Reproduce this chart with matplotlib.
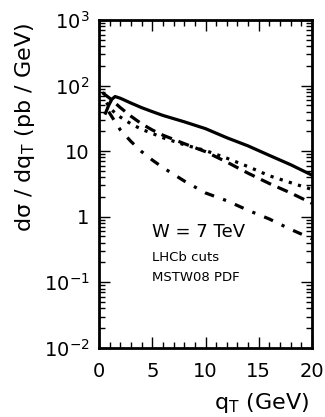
import matplotlib
matplotlib.use("Agg")
import matplotlib.pyplot as plt
from matplotlib.ticker import FixedLocator, FixedFormatter, LogLocator, NullFormatter, MultipleLocator

plt.rcParams['font.family'] = ['DejaVu Sans']
plt.rcParams['mathtext.default'] = 'regular'

# solid
q_solid = [0.6, 0.9, 1.2, 1.5, 2, 3, 4, 5, 6, 8, 10, 12, 14, 16, 18, 20]
y_solid = [38, 50, 62, 68, 64, 54, 46, 40, 35, 28, 22, 16, 12, 8.6, 6.2, 4.3]
# dashed
q_dash = [0.3, 1, 2, 3, 4, 5, 6, 8, 10, 12, 14, 16, 18, 20]
y_dash = [78, 64, 46, 34, 26, 21, 17.5, 13, 9.8, 6.8, 4.6, 3.2, 2.3, 1.6]
# dotted
q_dot = [0.7, 1, 1.5, 2, 3, 4, 5, 6, 8, 10, 12, 14, 16, 18, 20]
y_dot = [55, 46, 38, 33, 26, 21.5, 18.6, 16, 12.5, 10.2, 7.8, 5.8, 4.2, 3.3, 2.6]
# dash-dot
q_dd = [0.9, 1.5, 2, 3, 4, 5, 6, 8, 10, 12, 14, 16, 18, 20]
y_dd = [40, 28, 21, 14, 9.8, 7.3, 5.6, 3.5, 2.3, 1.75, 1.25, 0.92, 0.64, 0.46]

ytick_vals = [1e-2, 1e-1, 1, 10, 1e2, 1e3]
ytick_labels = ['$10^{-2}$', '$10^{-1}$', '1', '10', '$10^{2}$', '$10^{3}$']

fig = plt.figure(figsize=(3.25, 4.17), dpi=100)
ax = fig.add_axes([0.305, 0.166, 0.655, 0.786])

lw = 2.3
ax.plot(q_solid, y_solid, color='black', lw=lw, linestyle='-')
ax.plot(q_dash, y_dash, color='black', lw=lw, linestyle=(0, (3.5, 2.2)))
ax.plot(q_dot, y_dot, color='black', lw=lw, linestyle=(0, (1, 2)))
ax.plot(q_dd, y_dd, color='black', lw=lw, linestyle=(0, (3, 3, 1, 3)))

ax.set_yscale('log')
ax.set_xlim(0, 20)
ax.set_ylim(1e-2, 1e3)

ax.yaxis.set_major_locator(FixedLocator(ytick_vals))
ax.yaxis.set_major_formatter(FixedFormatter(ytick_labels))
ax.yaxis.set_minor_locator(LogLocator(base=10, subs=range(2, 10), numticks=20))
ax.yaxis.set_minor_formatter(NullFormatter())
ax.xaxis.set_major_locator(MultipleLocator(5))
ax.xaxis.set_minor_locator(MultipleLocator(1))

ax.tick_params(which='both', direction='in', top=True, right=True, labelsize=14, width=1)
ax.tick_params(which='major', length=8)
ax.tick_params(axis='x', which='major', pad=10)
ax.tick_params(axis='y', which='major', pad=7)
ax.tick_params(which='minor', length=4)
for s in ax.spines.values():
    s.set_linewidth(2)

ax.text(5.0, 0.59, 'W = 7 TeV', fontsize=13, va='center')
ax.text(5.0, 0.235, 'LHCb cuts', fontsize=9.5, va='center')
ax.text(5.0, 0.12, 'MSTW08 PDF', fontsize=9.5, va='center')

fig.text(0.077, 0.695, r'd$\sigma$ / dq$_\mathrm{T}$ (pb / GeV)', rotation=90,
         fontsize=16, ha='center', va='center')
fig.text(0.95, 0.005, r'q$_\mathrm{T}$ (GeV)', fontsize=16, ha='right', va='bottom')

fig.savefig('out.png', dpi=100)
